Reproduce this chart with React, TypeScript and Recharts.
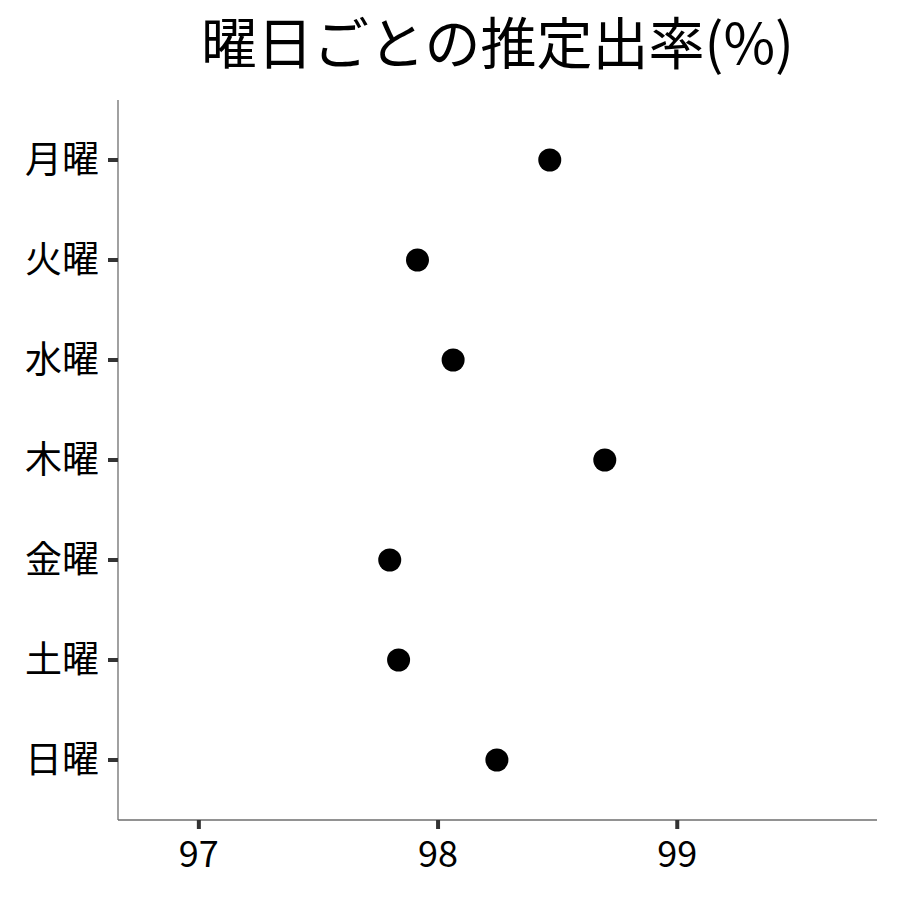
import React from "react";
import { ScatterChart, Scatter, XAxis, YAxis } from "recharts";

const title = "曜日ごとの推定出率(%)";
const days = ["月曜", "火曜", "水曜", "木曜", "金曜", "土曜", "日曜"];
const rates = [98.467, 97.914, 98.063, 98.697, 97.798, 97.835, 98.246];
const xTicks = [97, 98, 99];
const xDomain = [96.662, 99.835];

const data = days.map((d, i) => ({ idx: i, rate: rates[i], day: d }));
const yTicks = days.map((_, i) => i);

const FONT = "'Noto Sans CJK JP', 'Noto Sans', sans-serif";

const axisLineStyle = { stroke: "#6e6e6e", strokeWidth: 1.3 };
const TICK_COLOR = "#333333";
const TICK_W = 4;

const XTick = (p: any) => {
  const { x, y, payload } = p;
  return (
    <g>
      <line x1={x} x2={x} y1={y} y2={y + 9} stroke={TICK_COLOR} strokeWidth={TICK_W} />
      <text x={x} y={y + 21} dy="0.71em" textAnchor="middle" fill="#000" fontSize={36} fontFamily={FONT}>
        {payload.value}
      </text>
    </g>
  );
};

const YTick = (p: any) => {
  const { x, y, payload } = p;
  return (
    <g>
      <line x1={x - 10} x2={x} y1={y} y2={y} stroke={TICK_COLOR} strokeWidth={TICK_W} />
      <text x={x - 19} y={y} dy="0.355em" textAnchor="end" fill="#000" fontSize={37} fontFamily={FONT}>
        {days[payload.value] ?? ""}
      </text>
    </g>
  );
};

export default function App() {
  return (
    <div style={{ position: "absolute", left: 0, top: 0, width: 900, height: 900, background: "#fff" }}>
      <div
        style={{
          position: "absolute",
          left: 118,
          width: 759,
          top: 3,
          textAlign: "center",
          fontFamily: FONT,
          fontSize: 56,
          lineHeight: "74px",
          color: "#000",
        }}
      >
        {title}
      </div>
      <ScatterChart width={900} height={900} margin={{ top: 100, right: 23, bottom: 0, left: 0 }}>
        <XAxis
          type="number"
          dataKey="rate"
          domain={xDomain}
          ticks={xTicks}
          allowDataOverflow
          height={80}
          axisLine={axisLineStyle}
          tickLine={false}
          tickSize={0}
          tickMargin={0}
          tick={<XTick />}
        />
        <YAxis
          type="number"
          dataKey="idx"
          domain={[-0.6, 6.6]}
          ticks={yTicks}
          reversed
          allowDataOverflow
          width={118}
          interval={0}
          axisLine={axisLineStyle}
          tickLine={false}
          tickSize={0}
          tickMargin={0}
          tick={<YTick />}
        />
        <Scatter
          data={data}
          fill="#000"
          isAnimationActive={false}
          shape={(p: any) => <circle cx={p.cx} cy={p.cy} r={11.5} fill="#000" />}
        />
      </ScatterChart>
    </div>
  );
}
